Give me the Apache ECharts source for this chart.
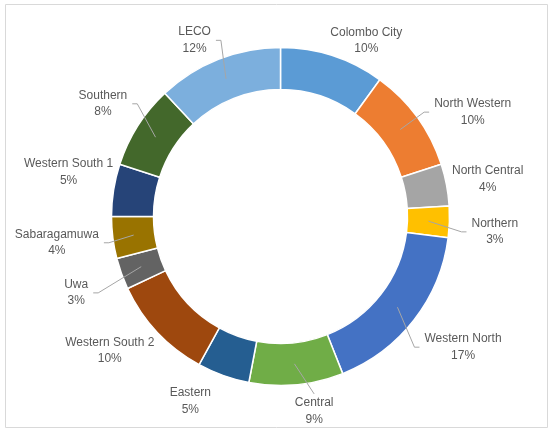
<!DOCTYPE html>
<html>
<head>
<meta charset="utf-8">
<script src="https://cdn.jsdelivr.net/npm/echarts@6/dist/echarts.min.js"></script>
<style>
  html, body { margin: 0; padding: 0; background: #fff; }
  #chart { width: 550px; height: 432px; }
</style>
</head>
<body>
<div id="chart"></div>
<script>
// regions, clockwise from 12 o'clock
var names = ['Colombo City', 'North Western', 'North Central', 'Northern', 'Western North',
  'Central', 'Eastern', 'Western South 2', 'Uwa', 'Sabaragamuwa', 'Western South 1',
  'Southern', 'LECO'];
var shares = [10, 10, 4, 3, 17, 9, 5, 10, 3, 4, 5, 8, 12];
var colors = ['#5b9bd5', '#ed7d31', '#a5a5a5', '#ffc000', '#4472c4', '#70ad47', '#255e91',
  '#9e480e', '#636363', '#997300', '#264478', '#43682b', '#7cafdd'];
// labels that get a leader line in the original
var withLeader = ['LECO', 'Southern', 'North Western', 'Northern', 'Western North',
  'Central', 'Sabaragamuwa', 'Uwa'];

var chart = echarts.init(document.getElementById('chart'));

var cx = 280.5, cy = 216.5;
var rIn = 127, rOut = 169;
var rLine = 148;   // leader lines start in the middle of the ring
var rLabel = 179;  // label boxes sit just outside this circle

// hand tweaks of the label spots, like dragging labels in excel: [turn (deg), clearance]
var labelTweak = {
    'Colombo City': [8, 169], 'North Western': [7.5, 178], 'North Central': [0.6, 173],
    'Northern': [2.3, 191], 'Western North': [-2.2, 185], 'Central': [-4.4, 181],
    'Eastern': [6.2, 184], 'Western South 2': [5, 174], 'Uwa': [-0.7, 202],
    'Sabaragamuwa': [0.5, 182], 'Western South 1': [2.8, 170], 'Southern': [0, 182],
    'LECO': [-4.4, 176]
};

var total = shares.reduce(function (a, b) { return a + b; }, 0);
var midAngle = [];
var acc = 0;
shares.forEach(function (v) {
    midAngle.push((acc + v / 2) / total * Math.PI * 2);
    acc += v;
});

var ringData = names.map(function (n, i) {
    return { name: n, value: shares[i], itemStyle: { color: colors[i] } };
});
var labelData = names.map(function (n, i) {
    return {
        name: n, value: shares[i],
        labelLine: { show: withLeader.indexOf(n) >= 0 }
    };
});

// distance from the centre to the nearest point of a box
function boxDist(px, py, w, h) {
    var ax = Math.max(Math.abs(px) - w, 0);
    var ay = Math.max(Math.abs(py) - h, 0);
    return Math.sqrt(ax * ax + ay * ay);
}

function placeLabel(params) {
    var i = params.dataIndex;
    var a0 = midAngle[i];
    var tw = labelTweak[names[i]] || [0, rLabel];
    var a = a0 + tw[0] * Math.PI / 180;
    var ux = Math.sin(a), uy = -Math.cos(a);
    var w = params.labelRect.width / 2;
    var h = params.labelRect.height / 2 - 2;
    // push the box outwards until it clears the wanted circle
    var lo = 0, hi = 400;
    for (var k = 0; k < 40; k++) {
        var m = (lo + hi) / 2;
        if (boxDist(m * ux, m * uy, w, h) < tw[1]) lo = m; else hi = m;
    }
    var px = cx + hi * ux, py = cy + hi * uy;
    var start = [cx + rLine * Math.sin(a0), cy - rLine * Math.cos(a0)];
    var end, bend;
    if (Math.abs(ux) > 0.25) {
        var s = ux > 0 ? 1 : -1;
        end = [px - s * (w + 5), py];
        bend = [end[0] - s * 5, py];
    } else {
        var t = uy > 0 ? 1 : -1;
        end = [px, py - t * (h + 3)];
        bend = end;
    }
    return {
        x: px, y: py,
        align: 'center', verticalAlign: 'middle',
        labelLinePoints: [start, bend, end]
    };
}

var option = {
    animation: false,
    graphic: [{
        type: 'rect',
        shape: { x: 5.5, y: 4.5, width: 542, height: 423 },
        style: { fill: 'none', stroke: '#d9d9d9', lineWidth: 1 },
        silent: true
    }],
    series: [
        {
            name: 'ring',
            type: 'pie',
            center: [cx, cy],
            radius: [rIn, rOut],
            startAngle: 90,
            silent: true,
            label: { show: false },
            labelLine: { show: false },
            itemStyle: { borderColor: '#fff', borderWidth: 1.5 },
            data: ringData
        },
        {
            name: 'labels',
            type: 'pie',
            center: [cx, cy],
            radius: [0, rLine],
            startAngle: 90,
            silent: true,
            avoidLabelOverlap: false,
            z: 3,
            itemStyle: { color: 'rgba(0,0,0,0)' },
            label: {
                show: true,
                position: 'outside',
                formatter: '{b}\n{c}%',
                color: '#595959',
                fontFamily: 'Liberation Sans',
                fontSize: 12,
                lineHeight: 16.5,
                overflow: 'none'
            },
            labelLine: {
                show: true,
                length: 30,
                length2: 6,
                lineStyle: { color: '#a6a6a6', width: 1 }
            },
            labelLayout: placeLabel,
            data: labelData
        }
    ]
};
chart.setOption(option);
</script>
</body>
</html>
